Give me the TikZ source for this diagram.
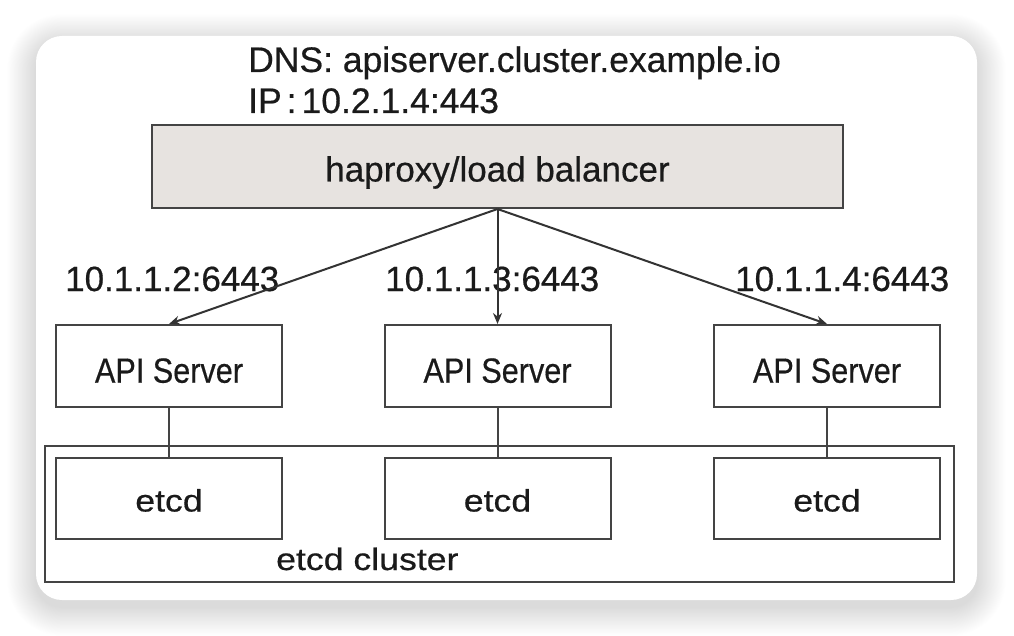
\documentclass[tikz,border=0pt]{standalone}
\usepackage{graphicx}
\usepackage{fontspec}
\setmainfont{Liberation Sans}[FakeBold=0.5]
\usetikzlibrary{arrows.meta}
\definecolor{linegray}{HTML}{444444}
\definecolor{arrowgray}{HTML}{333333}
\definecolor{hafill}{HTML}{E7E3E0}
\definecolor{txt}{HTML}{1A1A1A}
\newcommand\hsc[2]{\scalebox{#1}[1]{#2}}
\begin{document}
\begin{tikzpicture}[x=1pt,y=-1pt,
  boxbase/.style={draw=linegray, line width=2pt, inner sep=0pt, text=txt},
  srvbox/.style={boxbase, minimum width=226pt, minimum height=82pt, text height=36pt, text depth=2.6pt, font=\fontsize{35}{40}\selectfont},
  etcdbox/.style={boxbase, minimum width=226pt, minimum height=81pt, text height=30pt, text depth=4pt, font=\fontsize{31}{36}\selectfont},
  lbl/.style={anchor=base west, inner sep=0pt, text=txt, font=\fontsize{35}{40}\selectfont},
  toplbl/.style={anchor=base west, inner sep=0pt, text=txt, font=\fontsize{35.5}{40}\selectfont},
  arr/.style={draw=arrowgray, line width=2pt, -{Stealth[length=11pt,width=9pt]}},
  link/.style={draw=linegray, line width=2pt}]
\useasboundingbox (0,0) rectangle (1014,636);
\fill[white] (0,0) rectangle (1014,636);
% soft shadow
\foreach \i [evaluate=\i as \d using 0.8*\i, evaluate=\i as \r using 26+0.8*\i] in {1,...,36}
  \fill[black, opacity=0.0045, rounded corners=\r pt] (36-\d,43-\d) rectangle (977+\d,607+\d);
\fill[white, rounded corners=26pt] (36,36) rectangle (977,600);

% top labels
\node[toplbl] (dns) at (248,72) {DNS: apiserver.cluster.example.io};
\node[toplbl] (ip) at (248,113) {IP\kern5pt:\kern5pt10.2.1.4:443};

% load balancer
\node[boxbase, fill=hafill, minimum width=691pt, minimum height=83pt,
  text height=35pt, text depth=5pt,
  font=\fontsize{35}{40}\selectfont] (ha) at (497.5,166.5) {haproxy/load balancer};

% cluster box
\node[boxbase, minimum width=909pt, minimum height=136pt] (cluster) at (499.5,514) {};
\node[lbl, font=\fontsize{31}{36}\selectfont] (clbl) at (276,570) {\hsc{1.15}{etcd cluster}};

% api servers
\node[srvbox] (apiL) at (169,366) {\hsc{0.875}{API Server}};
\node[srvbox] (apiM) at (497.5,366) {\hsc{0.875}{API Server}};
\node[srvbox] (apiR) at (827,366) {\hsc{0.875}{API Server}};

% etcd
\node[etcdbox] (etcdL) at (169,498.5) {\hsc{1.15}{etcd}};
\node[etcdbox] (etcdM) at (497.5,498.5) {\hsc{1.15}{etcd}};
\node[etcdbox] (etcdR) at (827,498.5) {\hsc{1.15}{etcd}};

% address labels
\node[lbl] (aL) at (65,291) {10.1.1.2:6443};
\node[lbl] (aM) at (385,291) {10.1.1.3:6443};
\node[lbl] (aR) at (735,291) {10.1.1.4:6443};

% arrows
\draw[arr] (ha.south) -- (apiL.north);
\draw[arr] (ha.south) -- (apiM.north);
\draw[arr] (ha.south) -- (apiR.north);

% links
\draw[link] (apiL.south) -- (etcdL.north);
\draw[link] (apiM.south) -- (etcdM.north);
\draw[link] (apiR.south) -- (etcdR.north);
\end{tikzpicture}
\end{document}
